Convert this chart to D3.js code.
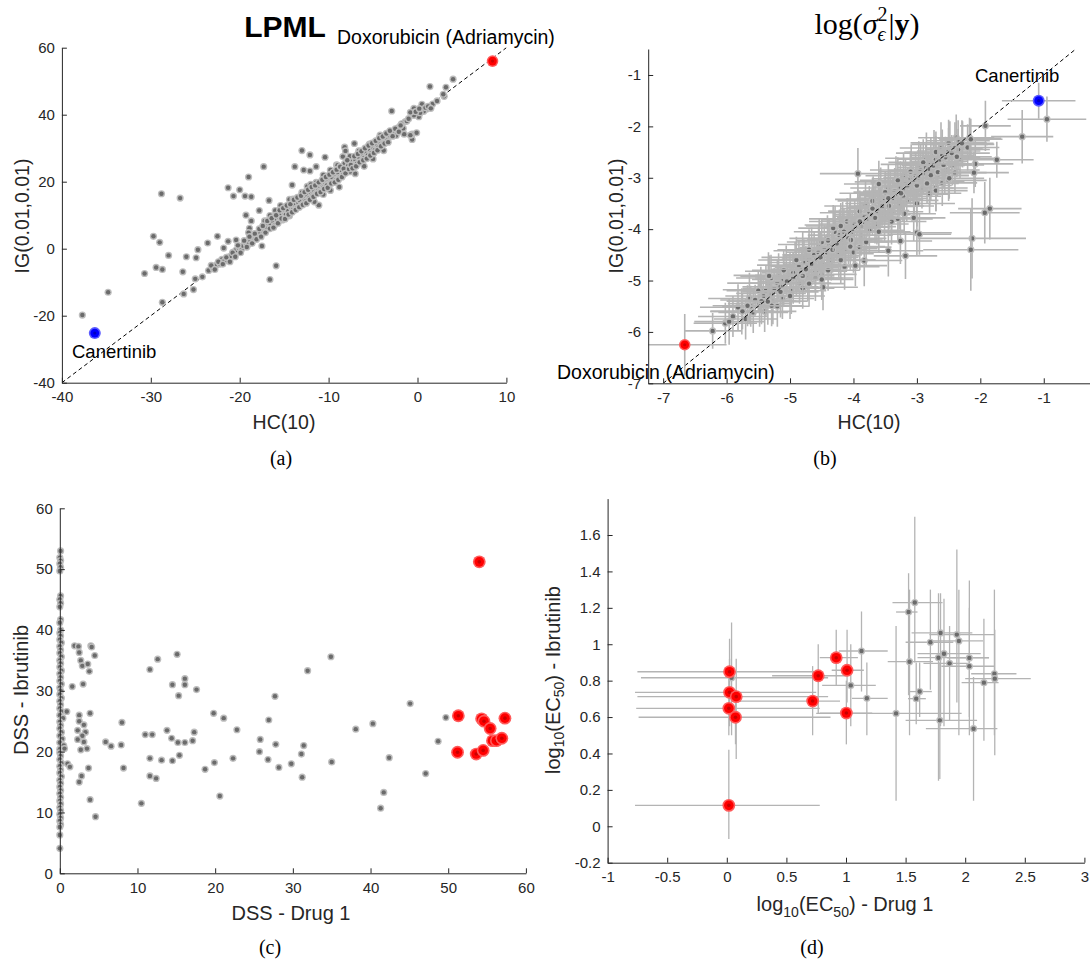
<!DOCTYPE html>
<html>
<head>
<meta charset="utf-8">
<script src="https://cdn.jsdelivr.net/npm/d3@7"></script>
<style>
  body { margin: 0; background: #fff; }
  text { font-family: "Liberation Sans", Arial, sans-serif; }
</style>
</head>
<body>
<script>
// ---- panel (a): LPML, HC(10) vs IG(0.01,0.01)
const lpmlPoints = [
  [-37.7,-19.8],[-34.8,-13.0],[-30.7,-7.4],[-29.7,3.7],[-29.0,1.9],[-29.4,-5.6],[-28.7,-6.2],[-28.8,16.4],
  [-28.7,-16.0],[-28.0,-2.0],[-26.7,15.1],[-26.4,-6.9],[-26.0,-2.4],[-26.3,-13.5],[-25.2,-12.2],[-24.9,-2.7],
  [-24.7,-0.3],[-25.0,-9.0],[-24.2,-8.4],[-23.6,1.7],[-22.5,3.7],[-21.3,2.2],[-21.3,18.2],[-20.0,17.6],
  [-20.7,15.7],[-19.4,15.7],[-18.7,15.5],[-19.0,21.4],[-17.3,24.5],[-17.8,11.4],[-16.7,14.4],[-19.3,10.0],
  [-18.7,8.3],[-18.9,6.1],[-17.5,0.8],[-16.6,-9.2],[-15.9,-5.1],[-13.8,24.5],[-13.0,29.3],[-12.1,28.0],
  [-12.8,23.5],[-12.1,23.2],[-11.4,24.5],[-10.4,27.3],[-14.1,19.0],[-11.1,13.0],[-8.2,30.3],[-8.1,29.2],
  [-9.1,25.0],[-8.4,27.5],[-7.1,31.4],[-5.0,26.8],[-4.2,33.9],[-2.9,41.1],[-1.6,35.9],[-1.5,34.2],
  [-1.4,37.9],[-0.6,32.6],[-0.6,34.2],[-0.1,34.6],[-0.8,33.9],[-0.4,41.9],[0.5,43.1],[0.15,39.4],
  [1.7,43.2],[1.4,48.4],[3.2,48.2],[4.0,50.6],[3.0,45.5],[1.0,41.6],[0.7,41.0],[2.9,46.1],
  [-23.5,-6.5],[-23.0,-5.8],[-22.6,-4.8],[-22.2,-4.6],[-22.0,-3.2],[-21.7,-3.6],[-21.3,-2.5],[-21.0,-2.2],
  [-20.7,-1.0],[-20.4,-0.4],[-20.1,0.3],[-19.8,-0.2],[-19.6,0.9],[-19.3,1.6],[-19.0,1.4],[-18.8,2.6],
  [-18.5,3.4],[-18.2,3.2],[-18.0,4.2],[-17.7,4.8],[-17.5,5.9],[-17.3,5.1],[-17.0,6.5],[-16.8,7.6],
  [-16.5,7.3],[-16.3,8.4],[-16.1,6.9],[-15.8,8.8],[-15.6,9.5],[-15.4,10.6],[-15.2,8.6],[-15.0,10.9],
  [-14.8,10.2],[-14.6,11.3],[-14.4,9.8],[-14.2,12.4],[-14.0,11.7],[-13.8,13.0],[-13.6,12.1],[-13.4,13.8],
  [-13.2,14.4],[-13.0,13.2],[-12.8,15.2],[-12.6,14.1],[-12.4,16.0],[-12.2,15.0],[-12.0,16.8],[-11.8,15.8],
  [-11.6,17.4],[-11.4,16.6],[-11.2,18.0],[-11.0,17.2],[-10.8,19.3],[-10.6,18.2],[-10.4,19.8],[-10.2,18.9],
  [-10.0,20.6],[-9.8,19.7],[-9.6,21.4],[-9.4,22.3],[-9.2,20.4],[-9.0,22.8],[-8.8,21.2],[-8.6,23.5],
  [-8.4,22.0],[-8.2,25.4],[-8.0,23.8],[-7.8,24.7],[-7.6,23.0],[-7.4,26.2],[-7.2,25.1],[-7.0,26.6],
  [-6.8,25.4],[-6.6,27.4],[-6.4,26.0],[-6.2,28.0],[-6.0,27.1],[-5.8,28.9],[-5.6,27.8],[-5.4,29.6],
  [-5.2,28.5],[-5.0,30.3],[-4.8,29.4],[-4.6,31.1],[-4.4,30.2],[-4.2,31.8],[-4.0,32.5],[-3.8,31.6],
  [-3.6,33.2],[-3.4,32.3],[-3.2,33.9],[-3.0,34.6],[-2.6,35.0],[-2.2,36.1],[-1.8,37.3],[-1.2,38.1],
  [-0.4,39.8],[0.3,40.6],[0.9,42.1],[-0.8,40.7],[-10.6,22.0],[-9.8,23.5],[-11.4,19.8],[-12.4,18.6],
  [-13.0,16.8],[-14.4,14.7],[-15.4,12.9],[-16.6,9.9],[-17.2,8.3],[-8.8,18.4],[-9.8,17.4],[-10.6,16.2],
  [-11.6,14.0],[-7.0,22.4],[-6.0,24.6],[-3.8,29.3],[-15.2,11.6],[-14.0,14.8],[-12.0,19.2],[-9.0,24.9],
  [-6.6,29.2],[-5.4,31.2],[-7.6,27.6],[-2.4,33.8],[-19.0,4.8],[-20.4,2.6],[-21.8,0.2],[-16.0,11.4],
  [-23.2,-5.0],[-22.8,-6.2],[-22.4,-3.9],[-21.9,-4.6],[-21.5,-2.6],[-21.1,-3.9],[-20.8,-1.2],[-20.5,-2.4],
  [-20.2,1.0],[-19.9,-1.2],[-19.5,2.4],[-19.2,0.5],[-18.9,3.6],[-18.6,1.6],[-18.3,4.5],[-18.1,2.8],
  [-17.8,5.9],[-17.6,3.6],[-17.4,6.8],[-17.1,4.8],[-16.9,8.3],[-16.6,6.0],[-16.4,9.1],[-16.2,6.3],
  [-15.9,10.0],[-15.7,7.6],[-15.5,11.5],[-15.3,9.0],[-15.1,12.1],[-14.9,8.9],[-14.7,12.9],[-14.5,10.2],
  [-14.3,13.3],[-14.1,10.9],[-13.9,14.6],[-13.7,11.6],[-13.5,15.3],[-13.3,12.4],[-13.1,15.8],[-12.9,13.1],
  [-12.7,16.9],[-12.5,13.6],[-12.3,17.6],[-12.1,14.6],[-11.9,18.4],[-11.7,15.5],[-11.5,18.9],[-11.3,16.4],
  [-11.1,19.8],[-10.9,16.9],[-10.7,20.6],[-10.5,17.8],[-10.3,21.4],[-10.1,18.2],[-9.9,22.1],[-9.7,19.5],
  [-9.5,22.8],[-9.3,19.8],[-9.1,23.6],[-8.9,20.6],[-8.7,24.5],[-8.5,21.4],[-8.3,23.9],[-8.1,22.5],
  [-7.9,26.4],[-7.7,23.8],[-7.5,25.0],[-7.3,24.0],[-7.1,27.6],[-6.9,24.6],[-6.7,28.3],[-6.5,25.8],
  [-6.3,29.1],[-6.1,26.4],[-5.9,30.0],[-5.7,26.9],[-5.5,30.8],[-5.3,27.8],[-5.1,31.5],[-4.9,28.6],
  [-4.7,32.2],[-4.5,29.4],[-4.3,33.0],[-4.1,30.6],[-3.9,33.5],[-3.7,31.4],[-3.5,34.4],[-3.3,31.8],
  [-3.1,35.2],[-2.8,33.6],[-2.5,35.8],[-2.1,34.9],[-1.9,36.8],[-1.0,38.8],[-0.2,40.9],[0.2,41.8],
  [1.2,42.5],[1.5,41.9],[2.2,44.1]
];
const lpmlRed = [[8.44, 56.0]];
const lpmlBlue = [[-36.3, -25.2]];
const lpmlRefLine = [[-40, -40], [10, 60]];

// ---- panel (b): log(sigma^2 | y), [x, y, xErr, yErr]
const sigmaOutliers = [
  [-0.95,-1.86,0.62,0.44],[-1.34,-2.2,0.49,0.52],[-1.92,-1.99,0.4,0.49],[-1.74,-2.65,0.58,0.35],
  [-1.93,-3.68,0.55,0.6],[-1.85,-3.6,0.5,0.6],[-2.13,-4.18,0.85,0.78],[-2.15,-4.4,0.75,0.8],
  [-3.18,-4.52,0.5,0.45],[-3.45,-4.42,0.55,0.5],[-3.83,-4.61,0.6,0.5],[-3.93,-2.92,0.6,0.5],
  [-6.22,-5.98,0.45,0.35],[-6.02,-5.83,0.5,0.4],[-5.96,-5.8,0.55,0.45],[-5.76,-5.6,0.5,0.45]
];
const sigmaBand = [
  [-5.9,-5.7,0.55,0.4],[-5.82,-5.52,0.6,0.45],[-5.7,-5.75,0.5,0.4],[-5.64,-5.35,0.65,0.5],
  [-5.58,-5.62,0.55,0.4],[-5.46,-5.18,0.6,0.45],[-5.4,-5.6,0.5,0.4],[-5.34,-5.05,0.65,0.5],
  [-5.27,-5.4,0.55,0.45],[-5.18,-4.92,0.6,0.45],[-5.12,-5.35,0.5,0.4],[-5.06,-4.82,0.65,0.5],
  [-4.98,-5.2,0.55,0.45],[-4.92,-4.7,0.6,0.45],[-4.85,-5.05,0.5,0.4],[-4.8,-4.55,0.65,0.5],
  [-4.72,-4.95,0.55,0.45],[-4.66,-4.42,0.6,0.45],[-4.6,-4.82,0.5,0.4],[-4.54,-4.3,0.65,0.5],
  [-4.47,-4.7,0.55,0.45],[-4.41,-4.18,0.6,0.45],[-4.35,-4.6,0.5,0.4],[-4.29,-4.05,0.65,0.5],
  [-4.23,-4.48,0.55,0.45],[-4.17,-3.92,0.6,0.45],[-4.12,-4.38,0.5,0.4],[-4.05,-3.8,0.65,0.5],
  [-3.99,-4.25,0.55,0.45],[-3.93,-3.68,0.6,0.45],[-3.88,-4.12,0.5,0.4],[-3.81,-3.55,0.65,0.5],
  [-3.75,-4.02,0.55,0.45],[-3.69,-3.42,0.6,0.45],[-3.63,-3.9,0.5,0.4],[-3.57,-3.3,0.65,0.5],
  [-3.51,-3.78,0.55,0.45],[-3.45,-3.2,0.6,0.45],[-3.4,-3.66,0.5,0.4],[-3.33,-3.08,0.65,0.5],
  [-3.28,-3.55,0.55,0.45],[-3.21,-2.96,0.6,0.45],[-3.16,-3.44,0.5,0.4],[-3.09,-2.85,0.65,0.5],
  [-3.04,-3.32,0.55,0.45],[-2.97,-2.74,0.6,0.45],[-2.92,-3.2,0.5,0.4],[-2.85,-2.62,0.65,0.5],
  [-2.8,-3.08,0.55,0.45],[-2.73,-2.52,0.6,0.45],[-2.68,-2.96,0.5,0.4],[-2.62,-2.42,0.65,0.5],
  [-2.56,-2.85,0.55,0.45],[-2.48,-2.35,0.6,0.45],[-2.44,-2.75,0.5,0.4],[-2.38,-2.22,0.6,0.45],
  [-2.32,-2.62,0.55,0.4],[-2.28,-2.35,0.5,0.45],
  [-5.75,-5.6,0.5,0.35],[-5.62,-5.5,0.45,0.4],[-5.55,-5.38,0.55,0.3],[-5.48,-5.45,0.5,0.45],
  [-5.42,-5.3,0.6,0.35],[-5.38,-5.2,0.4,0.5],[-5.3,-5.25,0.55,0.3],[-5.25,-5.15,0.5,0.4],
  [-5.2,-5.05,0.45,0.45],[-5.15,-5.12,0.6,0.35],[-5.1,-4.98,0.5,0.5],[-5.05,-5.02,0.45,0.3],
  [-5.0,-4.9,0.55,0.45],[-4.95,-4.85,0.5,0.4],[-4.9,-4.95,0.6,0.35],[-4.86,-4.72,0.45,0.5],
  [-4.82,-4.8,0.5,0.4],[-4.78,-4.65,0.55,0.45],[-4.74,-4.75,0.5,0.35],[-4.7,-4.6,0.6,0.5],
  [-4.66,-4.68,0.45,0.4],[-4.62,-4.5,0.5,0.45],[-4.58,-4.58,0.55,0.35],[-4.55,-4.45,0.5,0.5],
  [-4.5,-4.52,0.6,0.4],[-4.46,-4.38,0.45,0.45],[-4.42,-4.45,0.5,0.35],[-4.38,-4.3,0.55,0.5],
  [-4.35,-4.36,0.5,0.4],[-4.3,-4.22,0.6,0.45],[-4.26,-4.28,0.45,0.35],[-4.22,-4.12,0.5,0.5],
  [-4.18,-4.2,0.55,0.4],[-4.15,-4.05,0.5,0.45],[-4.1,-4.12,0.6,0.35],[-4.06,-3.98,0.45,0.5],
  [-4.02,-4.05,0.5,0.4],[-3.98,-3.9,0.55,0.45],[-3.95,-3.96,0.5,0.35],[-3.9,-3.82,0.6,0.5],
  [-3.86,-3.88,0.45,0.4],[-3.82,-3.75,0.5,0.45],[-3.78,-3.8,0.55,0.35],[-3.75,-3.66,0.5,0.5],
  [-3.7,-3.72,0.6,0.4],[-3.66,-3.58,0.45,0.45],[-3.62,-3.64,0.5,0.35],[-3.58,-3.5,0.55,0.5],
  [-3.55,-3.56,0.5,0.4],[-3.5,-3.42,0.6,0.45],[-3.46,-3.48,0.45,0.35],[-3.42,-3.35,0.5,0.5],
  [-3.38,-3.4,0.55,0.4],[-3.35,-3.26,0.5,0.45],[-3.3,-3.32,0.6,0.35],[-3.26,-3.18,0.45,0.5],
  [-3.22,-3.24,0.5,0.4],[-3.18,-3.1,0.55,0.45],[-3.15,-3.16,0.5,0.35],[-3.1,-3.02,0.6,0.5],
  [-3.06,-3.08,0.45,0.4],[-3.02,-2.95,0.5,0.45],[-2.98,-3.0,0.55,0.35],[-2.94,-2.86,0.5,0.5],
  [-2.9,-2.92,0.6,0.4],[-2.86,-2.8,0.45,0.45],[-2.82,-2.84,0.5,0.35],[-2.78,-2.72,0.55,0.5],
  [-2.74,-2.76,0.5,0.4],[-2.7,-2.64,0.6,0.45],[-2.65,-2.68,0.45,0.35],[-2.6,-2.56,0.5,0.5],
  [-2.55,-2.6,0.55,0.4],[-2.5,-2.48,0.5,0.45],[-2.45,-2.52,0.6,0.35],[-2.4,-2.42,0.45,0.5],
  [-2.35,-2.45,0.5,0.4],
  [-5.2,-5.5,0.5,0.4],[-5.0,-5.3,0.55,0.45],[-4.8,-5.15,0.5,0.4],[-4.6,-4.95,0.6,0.45],
  [-4.4,-4.8,0.5,0.4],[-4.2,-4.6,0.55,0.45],[-4.0,-4.45,0.5,0.4],[-3.8,-4.25,0.6,0.45],
  [-3.6,-4.05,0.5,0.4],[-3.4,-3.85,0.55,0.45],[-3.2,-3.7,0.5,0.4],[-3.0,-3.5,0.6,0.45],
  [-2.8,-3.3,0.5,0.4],[-2.6,-3.1,0.55,0.45],[-2.4,-2.9,0.5,0.4],[-2.5,-3.05,0.6,0.4],
  [-2.7,-3.2,0.5,0.45],[-3.3,-3.8,0.55,0.4],[-3.9,-4.35,0.5,0.45],[-4.5,-4.88,0.55,0.4],
  [-5.5,-5.2,0.5,0.4],[-5.3,-4.95,0.55,0.45],[-5.1,-4.8,0.5,0.4],[-4.9,-4.6,0.6,0.45],
  [-4.7,-4.4,0.5,0.4],[-4.5,-4.25,0.55,0.45],[-4.3,-4.05,0.5,0.4],[-4.1,-3.85,0.6,0.45],
  [-3.9,-3.65,0.5,0.4],[-3.7,-3.45,0.55,0.45],[-3.5,-3.28,0.5,0.4],[-3.3,-3.05,0.6,0.45],
  [-3.1,-2.88,0.5,0.4],[-2.9,-2.7,0.55,0.45],[-2.7,-2.5,0.5,0.4],[-2.5,-2.32,0.6,0.45],
  [-2.35,-2.28,0.5,0.4],
  [-4.95,-4.95,0.6,0.5],[-4.75,-4.78,0.55,0.45],[-4.52,-4.55,0.6,0.5],[-4.33,-4.4,0.55,0.45],
  [-4.08,-4.18,0.6,0.5],[-3.88,-3.95,0.55,0.45],[-3.66,-3.78,0.6,0.5],[-3.44,-3.55,0.55,0.45],
  [-3.22,-3.36,0.6,0.5],[-3.0,-3.15,0.55,0.45],[-2.78,-2.95,0.6,0.5],[-2.58,-2.75,0.55,0.45],
  [-5.15,-5.22,0.6,0.5],[-5.45,-5.4,0.55,0.45]
];
const sigmaVisible = [
  [-3.6,-3.12,0.55,0.45],[-2.49,-3.01,0.55,0.4],[-2.7,-3.25,0.5,0.4],[-2.29,-2.33,0.5,0.45],
  [-2.37,-2.59,0.55,0.4],[-2.2,-2.41,0.5,0.45],[-2.17,-2.23,0.5,0.4],[-2.67,-2.89,0.55,0.45],
  [-2.84,-3.11,0.5,0.4],[-2.15,-2.25,0.5,0.4],[-2.08,-2.73,0.6,0.45],[-2.1,-2.9,0.55,0.4],
  [-3.26,-4.23,0.5,0.45],[-3.0,-4.07,0.55,0.45],[-2.96,-4.1,0.5,0.4],[-3.05,-3.78,0.5,0.45],
  [-4.14,-4.73,0.55,0.45],[-3.97,-4.71,0.5,0.4],[-4.48,-5.13,0.55,0.45],[-4.5,-4.98,0.5,0.4],
  [-4.7,-5.06,0.55,0.45],[-4.8,-4.91,0.5,0.4],[-5.34,-4.9,0.55,0.45],[-5.29,-5.49,0.5,0.4],
  [-5.35,-5.41,0.5,0.45],[-5.67,-5.49,0.55,0.4],[-4.32,-3.98,0.55,0.45],[-4.4,-4.22,0.5,0.4],
  [-4.2,-3.94,0.55,0.45],[-4.04,-4.21,0.5,0.4],[-4.05,-4.34,0.55,0.45],[-5.33,-4.91,0.45,0.4],
  [-3.7,-3.6,0.5,0.4],[-3.45,-3.4,0.5,0.4],[-3.25,-3.3,0.5,0.4],[-3.9,-3.85,0.5,0.4]
];
const sigmaRed = [[-6.66, -6.25, 0.66, 0.6]];
const sigmaBlue = [[-1.08, -1.5, 0.58, 0.35]];
const sigmaRefLine = [[-7, -7], [-0.5, -0.5]];

// ---- panel (c): DSS, Drug 1 vs Ibrutinib
const dssPoints = [
  [0.1,53.0],[0.0,51.9],[0.1,51.4],[0.0,50.9],[0.1,50.3],[0.0,49.7],[0.1,45.6],[0.0,45.0],[0.1,44.4],
  [0.0,43.8],[0.1,41.7],[0.0,41.2],[0.1,40.0],[0.0,39.5],[0.1,39.0],[0.0,38.4],[0.2,37.9],[0.0,37.3],
  [0.1,36.7],[0.0,36.2],[0.2,35.6],[0.0,35.0],[0.1,34.5],[0.0,33.9],[0.2,33.3],[0.0,32.8],[0.1,32.2],
  [0.0,31.6],[0.2,31.1],[0.0,30.5],[0.1,30.0],[0.0,29.4],[0.2,28.8],[0.0,28.3],[0.1,27.7],[0.0,27.1],
  [0.2,26.6],[0.0,26.0],[0.4,25.5],[0.0,24.9],[0.1,24.3],[0.0,23.8],[0.2,23.2],[0.0,22.6],[0.3,22.1],
  [0.0,21.5],[0.5,21.0],[0.0,20.4],[0.6,20.5],[0.0,19.8],[0.1,19.3],[0.0,18.7],[0.2,18.1],[0.0,17.6],
  [0.1,17.0],[0.0,16.5],[0.2,15.9],[0.0,15.3],[0.1,14.8],[0.0,14.2],[0.1,13.6],[0.0,13.1],[0.1,12.5],
  [0.0,11.9],[0.1,11.4],[0.0,10.8],[0.1,10.3],[0.0,9.7],[0.1,9.1],[0.0,8.6],[0.1,8.0],[0.0,7.6],
  [0.0,6.3],[0.0,4.1],
  [1.9,37.4],[2.4,37.3],[2.5,36.3],[2.7,35.0],[2.9,34.1],[3.6,34.4],[4.0,37.4],[4.1,37.2],[4.5,35.8],
  [3.8,33.2],[3.0,31.1],[1.6,30.7],[0.9,26.6],[2.5,26.0],[2.5,25.0],[3.1,24.4],[3.9,26.3],[2.3,23.5],
  [3.3,23.2],[2.9,22.6],[2.3,22.0],[3.1,21.6],[3.5,20.5],[2.7,20.3],[1.0,18.0],[1.3,17.5],[3.7,17.3],
  [2.8,16.0],[2.5,15.0],[3.9,12.1],[4.6,9.3],[5.9,21.6],[6.6,20.9],[7.9,21.1],[8.0,24.8],[8.2,17.3],
  [10.5,11.5],[11.0,22.8],[11.9,22.8],[11.6,33.5],[12.6,35.2],[11.6,18.9],[11.6,16.0],[12.4,15.6],
  [13.1,18.6],[13.8,23.5],[14.4,22.2],[14.5,31.0],[15.1,36.0],[15.3,29.2],[15.2,21.5],[14.5,18.5],
  [15.4,19.4],[16.1,32.0],[16.1,31.0],[16.1,21.5],[17.1,21.8],[17.3,23.2],[17.6,30.2],[18.7,17.1],
  [19.8,26.3],[19.9,18.2],[20.6,12.7],[21.1,25.5],[22.3,18.9],[22.8,23.6],[25.8,22.0],[25.7,20.0],
  [26.9,25.2],[26.8,18.7],[27.7,29.1],[27.8,21.2],[28.2,17.4],[29.8,18.0],[31.1,19.6],[31.2,15.8],
  [31.4,21.0],[31.9,33.3],[34.9,35.6],[35.0,18.3],[38.1,23.7],[40.3,24.6],[41.3,10.7],[41.7,13.3],
  [42.4,19.0],[45.1,27.9],[47.1,16.4],[48.7,21.7],[49.7,25.6]
];
const dssRed = [
  [54.0,51.2],[51.3,25.9],[51.2,19.9],[53.6,19.6],[54.5,20.2],[54.3,25.4],[54.6,25.0],
  [55.4,23.8],[55.7,21.8],[56.2,21.8],[56.9,22.2],[57.3,25.5]
];

// ---- panel (d): log10(EC50), [x, y, xLow, xHigh, yLow, yHigh]
const ecGray = [
  [0.04,0.816,-0.72,0.85,0.5,1.12],[1.13,0.963,0.94,1.35,0.74,1.18],[1.04,0.774,0.8,1.25,0.55,1.0],
  [1.175,0.703,1.05,1.35,0.5,0.9],[1.42,0.62,0.75,1.97,0.14,1.1],[1.525,1.177,1.42,1.6,0.72,1.39],
  [1.577,1.229,1.39,1.81,0.9,1.7],[1.533,0.904,1.35,1.73,0.5,1.3],[1.618,0.74,1.52,1.72,0.6,0.9],
  [1.589,0.701,1.52,1.67,0.56,0.9],[1.708,1.011,1.5,1.9,0.75,1.3],[1.793,1.062,1.55,2.06,0.55,1.28],
  [1.776,0.926,1.6,2.2,0.25,1.28],[1.822,0.948,1.6,2.13,0.55,1.25],[1.869,0.895,1.65,2.04,0.58,1.1],
  [1.787,0.582,1.5,2.1,0.26,0.9],[1.93,1.053,1.7,2.25,0.68,1.52],[1.947,1.018,1.72,2.15,0.5,1.3],
  [2.035,0.925,1.85,2.2,0.6,1.35],[2.035,0.879,1.8,2.25,0.5,1.2],[2.07,0.536,1.67,2.27,0.14,0.82],
  [2.157,0.789,1.97,2.28,0.47,1.14],[2.245,0.838,2.05,2.43,0.5,1.3],[2.248,0.811,2.0,2.55,0.39,1.08]
];
const ecRed = [
  [0.023,0.849,-0.75,0.78,0.62,1.03],[0.023,0.736,-0.77,0.75,0.55,0.92],[0.079,0.712,-0.75,0.85,0.37,0.92],
  [0.017,0.648,-0.76,0.78,0.5,0.85],[0.073,0.599,-0.74,0.87,0.45,0.75],[0.017,0.115,-0.77,0.78,-0.07,0.42],
  [0.72,0.688,0.1,0.95,0.5,0.88],[0.767,0.827,0.38,1.0,0.62,1.0],[0.918,0.926,0.78,1.1,0.77,1.08],
  [1.009,0.857,0.88,1.15,0.68,1.08],[1.003,0.622,0.78,1.22,0.45,0.8]
];

const INK = "#262626";
const BAR = "#b4b4b4";
const svg = d3.select("body").append("svg")
  .attr("width", 1090).attr("height", 963)
  .style("background", "#fff");

function panel(id, box, xDom, yDom, xTicks, yTicks) {
  const x = d3.scaleLinear().domain(xDom).range([box.left, box.right]);
  const y = d3.scaleLinear().domain(yDom).range([box.bottom, box.top]);
  svg.append("clipPath").attr("id", id).append("rect")
    .attr("x", box.left).attr("y", box.top - 1)
    .attr("width", box.right - box.left).attr("height", box.bottom - box.top + 1);
  const clipped = svg.append("g").attr("clip-path", `url(#${id})`);
  const plot = svg.append("g");
  const ax = svg.append("g").attr("transform", `translate(0,${box.bottom})`)
    .call(d3.axisBottom(x).tickValues(xTicks).tickFormat(d => String(d))
      .tickSizeInner(-5).tickSizeOuter(0).tickPadding(9));
  const ay = svg.append("g").attr("transform", `translate(${box.left},0)`)
    .call(d3.axisLeft(y).tickValues(yTicks).tickFormat(d => String(d))
      .tickSizeInner(-5).tickSizeOuter(0).tickPadding(7));
  [ax, ay].forEach(g => {
    g.attr("font-family", '"Liberation Sans", Arial, sans-serif').attr("font-size", 15);
    g.selectAll("path, line").attr("stroke", INK);
    g.selectAll("text").attr("fill", INK);
  });
  return { x, y, plot, clipped };
}

function refLine(p, pts) {
  p.clipped.append("line")
    .attr("x1", p.x(pts[0][0])).attr("y1", p.y(pts[0][1]))
    .attr("x2", p.x(pts[1][0])).attr("y2", p.y(pts[1][1]))
    .attr("stroke", "#000").attr("stroke-width", 1).attr("stroke-dasharray", "4,3");
}

// bars given as [x, y, xLow, xHigh, yLow, yHigh]
function errorBars(p, rows) {
  const g = p.clipped.append("g").attr("stroke", BAR).attr("stroke-width", 1.3);
  g.selectAll(null).data(rows).join("line")
    .attr("x1", d => p.x(d[2])).attr("x2", d => p.x(d[3]))
    .attr("y1", d => p.y(d[1])).attr("y2", d => p.y(d[1]));
  g.selectAll(null).data(rows).join("line")
    .attr("x1", d => p.x(d[0])).attr("x2", d => p.x(d[0]))
    .attr("y1", d => p.y(d[4])).attr("y2", d => p.y(d[5]));
}
const symm = d => [d[0], d[1], d[0] - d[2], d[0] + d[2], d[1] - d[3], d[1] + d[3]];

function marker(g, st) {
  g.append("circle").attr("r", st.r1).attr("fill", st.halo);
  g.append("circle").attr("r", st.r2).attr("fill", st.core);
  if (st.r3) g.append("circle").attr("r", st.r3).attr("fill", st.dot);
}
function dots(p, pts, st) {
  p.plot.append("g").selectAll(null).data(pts).join("g")
    .attr("transform", d => `translate(${p.x(d[0])},${p.y(d[1])})`)
    .each(function () { marker(d3.select(this), st); });
}
// one errorbar series per point: its bars and marker, later ones drawn over earlier ones
function barDots(p, rows, st) {
  rows.forEach(r => {
    const d = symm(r);
    const g = p.clipped.append("g");
    g.append("line").attr("x1", p.x(d[2])).attr("x2", p.x(d[3]))
      .attr("y1", p.y(d[1])).attr("y2", p.y(d[1])).attr("stroke", BAR).attr("stroke-width", 1.6);
    g.append("line").attr("x1", p.x(d[0])).attr("x2", p.x(d[0]))
      .attr("y1", p.y(d[4])).attr("y2", p.y(d[5])).attr("stroke", BAR).attr("stroke-width", 1.6);
    marker(g.append("g").attr("transform", `translate(${p.x(d[0])},${p.y(d[1])})`), st);
  });
}
const GRAY = { r1: 3.6, halo: "#bdbdbd", r2: 2.2, core: "#6b6b6b" };
const REDBIG = { r1: 6.4, halo: "#ff5a5a", r2: 4.8, core: "#ff0000", r3: 1.8, dot: "#c80000" };
const BLUEBIG = { r1: 6.0, halo: "#5a5aff", r2: 4.4, core: "#0000ff", r3: 1.6, dot: "#0000c0" };
const REDA = { r1: 5.8, halo: "#ff5a5a", r2: 4.3, core: "#ff0000", r3: 1.6, dot: "#d00000" };

function label(x, y, txt, opts = {}) {
  const t = svg.append("text").attr("x", x).attr("y", y).text(txt)
    .attr("font-size", opts.size || 19.5).attr("fill", opts.fill || "#000")
    .attr("text-anchor", opts.anchor || "middle");
  if (opts.weight) t.attr("font-weight", opts.weight);
  if (opts.family) t.style("font-family", opts.family);
  return t;
}
function yLabel(cx, cy, build) {
  const t = svg.append("text")
    .attr("transform", `translate(${cx},${cy}) rotate(-90)`)
    .attr("text-anchor", "middle").attr("dominant-baseline", "central")
    .attr("font-size", 19.5).attr("fill", INK);
  build(t);
  return t;
}
function logEcLabel(t, tail) {
  t.append("tspan").text("log");
  t.append("tspan").text("10").attr("font-size", 14).attr("dy", 6);
  t.append("tspan").text("(EC").attr("dy", -6);
  t.append("tspan").text("50").attr("font-size", 14).attr("dy", 6);
  t.append("tspan").text(") - " + tail).attr("dy", -6);
}
const SERIF = '"Liberation Serif", "Times New Roman", serif';

// ================= (a)
const pa = panel("clipA", { left: 61.9, right: 506.4, top: 47.7, bottom: 382.7 },
  [-40, 10], [-40, 60], [-40, -30, -20, -10, 0, 10], [-40, -20, 0, 20, 40, 60]);
refLine(pa, lpmlRefLine);
dots(pa, lpmlPoints, GRAY);
dots(pa, lpmlRed, REDA);
dots(pa, lpmlBlue, BLUEBIG);
label(285, 37, "LPML", { size: 30, weight: "bold" });
label(337, 44, "Doxorubicin (Adriamycin)", { anchor: "start", size: 19.5 });
label(72, 358, "Canertinib", { anchor: "start", size: 18.5 });
label(284, 429, "HC(10)", { fill: INK });
yLabel(22, 216, t => t.text("IG(0.01,0.01)"));
label(281, 465, "(a)", { size: 20, family: SERIF });

// ================= (b)
const pb = panel("clipB", { left: 648.2, right: 1094.5, top: 49, bottom: 383.3 },
  [-7.236, -0.2], [-7, -0.494], [-7, -6, -5, -4, -3, -2, -1], [-7, -6, -5, -4, -3, -2, -1]);
barDots(pb, sigmaOutliers, GRAY);
barDots(pb, sigmaBand, GRAY);
barDots(pb, sigmaVisible, GRAY);
refLine(pb, sigmaRefLine);
barDots(pb, sigmaRed, REDA);
barDots(pb, sigmaBlue, BLUEBIG);
label(975, 82, "Canertinib", { anchor: "start", size: 18.5 });
label(557, 379, "Doxorubicin (Adriamycin)", { anchor: "start", size: 19.5 });
label(869, 429, "HC(10)", { fill: INK });
yLabel(616, 216, t => t.text("IG(0.01,0.01)"));
label(825, 465, "(b)", { size: 20, family: SERIF });
{
  const t = svg.append("text").attr("x", 867).attr("y", 34).attr("text-anchor", "middle")
    .attr("font-size", 30).style("font-family", SERIF).attr("fill", "#000");
  t.append("tspan").text("log(");
  t.append("tspan").text("σ").attr("font-style", "italic");
  t.append("tspan").text("2").attr("font-size", 20).attr("dy", -13);
  t.append("tspan").text("ϵ").attr("font-size", 20).attr("font-style", "italic").attr("dx", -10).attr("dy", 20);
  t.append("tspan").text("|").attr("dy", -7).attr("dx", 3);
  t.append("tspan").text("y").attr("font-weight", "bold");
  t.append("tspan").text(")");
}

// ================= (c)
const pc = panel("clipC", { left: 59.8, right: 525.9, top: 508.3, bottom: 873.3 },
  [0, 60], [0, 60], [0, 10, 20, 30, 40, 50, 60], [0, 10, 20, 30, 40, 50, 60]);
dots(pc, dssPoints, GRAY);
dots(pc, dssRed, REDBIG);
label(291, 920, "DSS - Drug 1", { fill: INK, size: 20 });
yLabel(21, 690, t => t.attr("font-size", 20).text("DSS - Ibrutinib"));
label(270, 954, "(c)", { size: 20, family: SERIF });

// ================= (d)
const pd = panel("clipD", { left: 607.6, right: 1084.4, top: 498.6, bottom: 862.7 },
  [-1, 3], [-0.2, 1.8], [-1, -0.5, 0, 0.5, 1, 1.5, 2, 2.5, 3],
  [-0.2, 0, 0.2, 0.4, 0.6, 0.8, 1, 1.2, 1.4, 1.6]);
errorBars(pd, ecGray);
errorBars(pd, ecRed);
dots(pd, ecGray, GRAY);
dots(pd, ecRed, REDBIG);
{
  const t = svg.append("text").attr("x", 845).attr("y", 911).attr("text-anchor", "middle")
    .attr("font-size", 20).attr("fill", INK);
  logEcLabel(t, "Drug 1");
}
yLabel(553, 680, t => { t.attr("font-size", 20); logEcLabel(t, "Ibrutinib"); });
label(812, 954, "(d)", { size: 20, family: SERIF });
</script>
</body>
</html>
